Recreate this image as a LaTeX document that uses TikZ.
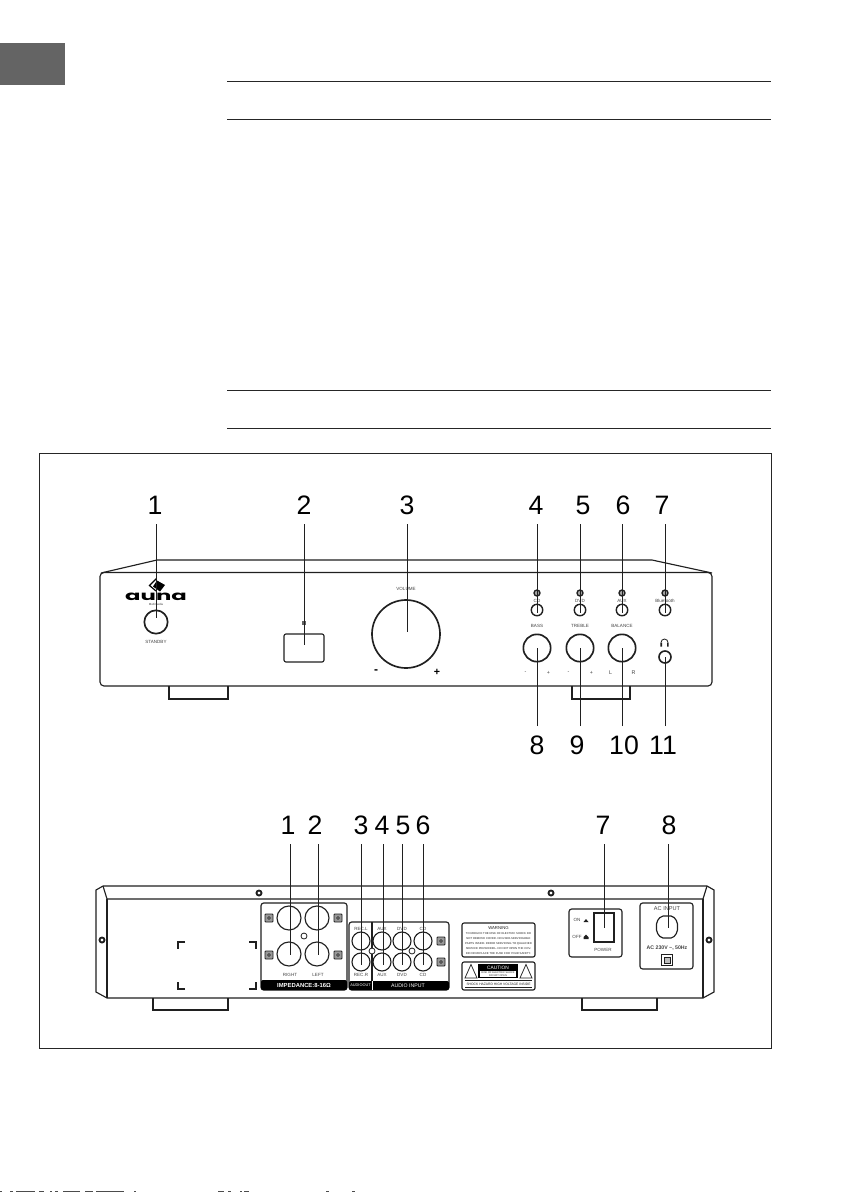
\documentclass[tikz,border=0pt]{standalone}
\usepackage{fontspec}
\setmainfont{Liberation Sans}
\newfontfamily\logofont{Poppins}[UprightFont=* Bold]
\usetikzlibrary{calc}
\definecolor{ink}{HTML}{202020}
\tikzset{
 px/.style={x=0.75pt,y=-0.75pt},
 ln/.style={draw=ink,line width=0.85pt},
 foot/.style={draw=ink,line width=0.8pt},
 heavy/.style={draw=ink,line width=1.25pt},
 leader/.style={draw=ink,line width=0.7pt},
 num/.style={font=\fontsize{20}{20}\selectfont,text=black,inner sep=0pt,anchor=base},
 tiny lab/.style={font=\fontsize{3.4}{4}\selectfont,text=ink!85,inner sep=0pt},
 band lab/.style={font=\fontsize{4.4}{5}\selectfont\bfseries,text=white,inner sep=0pt},
 warn/.style={font=\fontsize{2.1}{3.75}\selectfont,text=ink,inner sep=0pt,align=center},
 rule/.style={draw=black!85,line width=0.75pt},
 icon/.style={draw=ink,line width=0.7pt,fill=black!40,minimum size=6pt,inner sep=0pt,rounded corners=0.6pt},
 scrap/.style={fill=black!70},
}
\begin{document}
\begin{tikzpicture}[px]
\useasboundingbox (0,0) rectangle (840,1192);
\fill[white] (0,0) rectangle (840,1192);
% page header
\fill[fill={rgb,255:red,100;green,100;blue,100}] (0,42.5) rectangle (65,85);
\foreach \y in {81,119,390,428} \draw[rule] (227,\y) -- (771,\y);
\draw[draw=black!85,line width=0.6pt] (39,453) rectangle (771,1048);

%% FRONT
\draw[ln] (101,573) -- (157,560) -- (652,560) -- (712,573);
\draw[ln,rounded corners=3pt] (100,572.5) -- (712,572.5) -- (712,686) -- (100,686) -- cycle;
\draw[foot] (169,686) |- (228,699) -- (228,686);
\draw[foot] (572,686) |- (630,699) -- (630,686);
% logo
\fill[black] (157,580.5) -- (165,585) -- (160,591.5) -- (153,586.5) -- cycle;
\draw[black,line width=0.9pt] (156.5,578.5) -- (149.5,585.5) -- (156,591);
\node[inner sep=0pt,font=\fontsize{11}{11}\logofont,text=black,xscale=1.55,yscale=0.9,text depth=0pt,text height=5pt] (logo) at (156,597) {auna};
\node[tiny lab,font=\fontsize{2.2}{3}\selectfont] (multi) at (156,604.5) {Multimedia};
\node[heavy,draw,circle,minimum size=17.5pt,inner sep=0pt] (standby) at (156,622) {};
\node[tiny lab] (stlab) at (156,642) {STANDBY};
\node[ln,draw,rounded corners=1.5pt,minimum width=30pt,minimum height=21pt,inner sep=0pt] (disp) at (304,648) {};
\node[fill=ink!70,minimum size=3.2pt,inner sep=0pt] (ir) at (304,623) {};
\node[heavy,draw,circle,minimum size=51pt,inner sep=0pt] (vol) at (406,634) {};
\node[tiny lab] (vollab) at (406,589) {VOLUME};
\node[inner sep=0pt,font=\fontsize{9}{9}\selectfont\bfseries] (vm) at (376,672) {-};
\node[inner sep=0pt,font=\fontsize{8}{8}\selectfont\bfseries] (vp) at (437,672.5) {+};
% source selectors
\foreach \n/\x/\t in {a/537/CD,b/580/DVD,c/622/AUX,d/665/Bluetooth}{
  \node[draw=ink,line width=1pt,fill=black!35,circle,minimum size=4.5pt,inner sep=0pt] (led\n) at (\x,593) {};
  \node[tiny lab] (sel\n) at (\x,600.5) {\t};
  \node[draw=ink,line width=1.05pt,circle,minimum size=8.6pt,inner sep=0pt] (btn\n) at (\x,610) {};
}
\foreach \n/\x/\t/\l/\r in {a/537/BASS/-/+,b/580/TREBLE/-/+,c/622/BALANCE/L/R}{
  \node[heavy,draw,circle,minimum size=20.5pt,inner sep=0pt] (kn\n) at (\x,648) {};
  \node[tiny lab] at (\x,626) {\t};
  \node[tiny lab,font=\fontsize{4}{4}\selectfont] at (\x-11.5,673) {\l};
  \node[tiny lab,font=\fontsize{4}{4}\selectfont] at (\x+11.5,673) {\r};
}
\node[draw=ink,line width=1.2pt,circle,minimum size=9pt,inner sep=0pt] (jack) at (665,657) {};
\draw[ink,line width=0.6pt] (661,642.5) arc[start angle=180,end angle=360,radius=3.5];
\fill[ink] (660.3,642.5) rectangle (662,646.5) (667,642.5) rectangle (668.7,646.5);
% front numbers
\foreach \n/\l/\x in {n1/1/155,n2/2/304,n3/3/407,n4/4/536,n5/5/583,n6/6/623,n7/7/662}{
  \node[num] (\n) at (\x,514) {\l};
}
\foreach \n/\l/\x in {n8/8/537,n9/9/577,n10/10/624,n11/11/663}{
  \node[num] (\n) at (\x,754) {\l};
}
% front leaders
\foreach \n/\x/\e in {1/156/618,2/304/645,3/407/632,4/537/613,5/580/613,6/622/613,7/665/613}{
  \coordinate (ta\n) at (\x,524); \coordinate (ea\n) at (\x,\e);
  \draw[leader] (ta\n) -- (ea\n);
}
\foreach \n/\x/\e in {8/537/648,9/580/648,10/622/648,11/665/657}{
  \coordinate (ta\n) at (\x,726); \coordinate (ea\n) at (\x,\e);
  \draw[leader] (ta\n) -- (ea\n);
}

%% REAR
\draw[ln] (103,886) -- (707,886) -- (714,890) -- (714,992) -- (703,998) -- (107,998) -- (96,992) -- (96,890) -- cycle;
\draw[ln] (103,886) -- (107,899) -- (703,899) -- (707,886);
\draw[ln] (107,899) -- (107,998);
\draw[ln] (703,899) -- (703,998);
\draw[foot] (153,998) |- (228,1010) -- (228,998);
\draw[foot] (582,998) |- (657,1010) -- (657,998);
\foreach \x/\y in {259/893,551/893,102/940,709/940}{
  \draw[ink,line width=1.4pt,fill=white] (\x,\y) circle[radius=2.5];
}
% bracket marks
\draw[ln] (185,942) -| (178,949);
\draw[ln] (249,942) -| (256,949);
\draw[ln] (185,989) -| (178,982);
\draw[ln] (249,989) -| (256,982);
% speaker panel
\draw[ln,rounded corners=2pt] (261,903) rectangle (347,990);
\fill[black,rounded corners=1.5pt] (261,980) rectangle (347,990);
\node[band lab] (imp) at (304,985) {IMPEDANCE:8-16Ω};
\foreach \n/\x/\y in {sa/289/918,sb/317/918,sc/289/954,sd/317/954}{
  \node[ln,draw,circle,minimum size=18pt,inner sep=0pt] (\n) at (\x,\y) {};
}
\draw[ink,line width=0.6pt] (304,936) circle[radius=3];
\foreach \x/\y in {269/918,269/955,338/918,338/955,441/941,441/962}{
  \node[icon] at (\x,\y) {};
  \draw[ink,line width=0.5pt,fill=white] (\x,\y) circle[radius=1.4];
}
\node[tiny lab] at (290,975) {RIGHT};
\node[tiny lab] at (318,975) {LEFT};
% audio panels
\draw[ln,rounded corners=2pt] (349,922) rectangle (449,990);
\draw[foot] (372,922) -- (372,990);
\fill[black,rounded corners=1.5pt] (349,981) rectangle (449,990);
\draw[white,line width=0.4pt] (372,981) -- (372,990);
\node[band lab,font=\fontsize{2.9}{4}\selectfont] at (360.5,985.5) {AUDIOOUT};
\node[band lab,font=\fontsize{3.9}{5}\selectfont] at (408,985.5) {AUDIO INPUT};
\foreach \n/\x/\a/\b in {j1/361/REC.L/REC.R,j2/382/AUX/AUX,j3/402/DVD/DVD,j4/423/CD/CD}{
  \node[ln,draw,circle,minimum size=13.5pt,inner sep=0pt] (\n u) at (\x,941) {};
  \node[ln,draw,circle,minimum size=13.5pt,inner sep=0pt] (\n l) at (\x,962) {};
  \node[tiny lab] at (\x,929) {\a};
  \node[tiny lab] at (\x,975) {\b};
}
\draw[ink,line width=0.6pt,fill=white] (372,951) circle[radius=3];
\draw[ink,line width=0.6pt,fill=white] (412,951) circle[radius=3];
% warning
\draw[ln,rounded corners=1.5pt] (462,923) rectangle (535,957);
\node[warn] (warntxt) at (498.5,940.5) {\fontsize{3.2}{4}\selectfont WARNING\\TO REDUCE THE RISK OF ELECTRIC SHOCK DO\\NOT REMOVE COVER. NO USER-SERVICEABLE\\PARTS INSIDE. REFER SERVICING TO QUALIFIED\\SERVICE PERSONNEL. DO NOT OPEN THE COV-\\ER OR REPLACE THE FUSE FOR YOUR SAFETY.};
\draw[ln,rounded corners=1.5pt] (462,962) rectangle (535,990);
\fill[black] (478,964) rectangle (518,978);
\node[band lab,font=\fontsize{3.6}{4}\selectfont] at (498,967.5) {CAUTION};
\fill[white] (480,971) rectangle (516,977);
\node[warn,font=\fontsize{1.9}{2.5}\selectfont] at (498,974) {RISK OF ELECTRIC SHOCK\\DO NOT OPEN};
\draw[ink,line width=0.55pt] (471,964.5) -- (477,978) -- (465,978) -- cycle;
\draw[ink,line width=0.55pt] (526,964.5) -- (532,978) -- (520,978) -- cycle;
\draw[ink,line width=0.6pt] (465,980.5) -- (532,980.5) (465,987) -- (532,987);
\node[warn,font=\fontsize{2.5}{3}\selectfont] at (498.5,984) {SHOCK HAZARD HIGH VOLTAGE INSIDE};
% power
\draw[ln,rounded corners=2pt] (569,909) rectangle (622,957);
\node[heavy,draw,minimum width=15pt,minimum height=21.5pt,inner sep=0pt] (sw) at (604,927.5) {};
\node[tiny lab] at (577,920) {ON};
\node[tiny lab] at (577,937) {OFF};
\fill[ink] (583.5,922) -- (588.5,922) -- (586,919) -- cycle;
\fill[ink] (583.5,939) rectangle (588.5,937) (583.5,937) -- (588.5,937) -- (586,934.5) -- cycle;
\node[tiny lab] at (603,950) {POWER};
% AC
\draw[ln,rounded corners=2pt] (640,903) rectangle (693,969);
\node[tiny lab,font=\fontsize{4.2}{5}\selectfont] at (667,909) {AC INPUT};
\draw[ln,rounded corners=1.5pt] (661,916) -- (673,916) -- (677.5,922) -- (677.5,932) -- (673,938) -- (661,938) -- (656.5,932) -- (656.5,922) -- cycle;
\node[tiny lab,font=\fontsize{3.9}{5}\selectfont\bfseries] at (667,948) {AC 230V \textasciitilde, 50Hz};
\node[ln,draw,minimum size=8pt,inner sep=0pt] (fuse) at (667,960) {};
\node[draw=ink,line width=0.6pt,fill=black!25,minimum size=4.5pt,inner sep=0pt] at (667,960) {};
% rear numbers and leaders
\foreach \n/\l/\x in {r1/1/288,r2/2/315,r3/3/361,r4/4/382,r5/5/403,r6/6/423,r7/7/603,r8/8/669}{
  \node[num] (\n) at (\x,834) {\l};
}
\foreach \n/\x/\e in {1/290/955,2/318/955,3/361/965,4/383/965,5/402/965,6/423/965,7/604/928,8/668/928}{
  \coordinate (tb\n) at (\x,844); \coordinate (eb\n) at (\x,\e);
  \draw[leader] (tb\n) -- (eb\n);
}
% clipped line of text at the foot of the page
\foreach \a/\b in {0/2,10/13,16/35,39/44,50/52,55/58,63/80,85/93,96/124,134/136,218/224,228/231,240/242,244/249,326/329,352/355}{
  \fill[scrap] (\a,1191) rectangle (\b,1192);
}
\end{tikzpicture}
\end{document}
